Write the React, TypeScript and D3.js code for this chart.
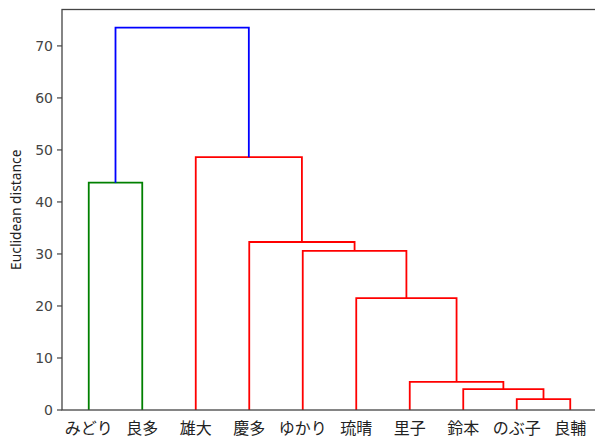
import { useEffect, useRef } from "react";
import * as d3 from "d3";

// leaf labels, in dendrogram order
const leaves = ["みどり", "良多", "雄大", "慶多", "ゆかり", "琉晴", "里子", "鈴本", "のぶ子", "良輔"];

// linkage steps (scipy style: index >= leaves.length refers to an earlier merge)
const mergeA = [8, 7, 6, 5, 4, 3, 0, 2, 16];
const mergeB = [9, 10, 11, 12, 13, 14, 1, 15, 17];
const mergeHeight = [2.1, 4.0, 5.4, 21.5, 30.6, 32.3, 43.7, 48.6, 73.5];
const mergeColor = ["red", "red", "red", "red", "red", "red", "green", "red", "blue"];

const yTicks = [0, 10, 20, 30, 40, 50, 60, 70];

const W = 595;
const H = 440;
const FONT_CJK = "'Noto Sans CJK JP', 'Noto Sans', sans-serif";

export default function App() {
  const svgRef = useRef<SVGSVGElement>(null);

  useEffect(() => {
    if (!svgRef.current) return;
    const svg = d3.select(svgRef.current);
    svg.selectAll("*").remove();

    const margen = { top: 9.5, right: -2, bottom: 30, left: 62 };
    const x = d3.scaleLinear().domain([0, leaves.length * 10]).range([margen.left, W - margen.right]);
    const y = d3.scaleLinear().domain([0, 77]).range([H - margen.bottom, margen.top]);

    // posición y altura de cada nodo
    const nodeX: number[] = leaves.map((_, i) => i * 10 + 5);
    const nodeY: number[] = leaves.map(() => 0);
    mergeA.forEach((a, i) => {
      const b = mergeB[i];
      nodeX.push((nodeX[a] + nodeX[b]) / 2);
      nodeY.push(mergeHeight[i]);
    });

    const g = svg.append("g");
    mergeA.forEach((a, i) => {
      const b = mergeB[i];
      const h = mergeHeight[i];
      const path = d3.path();
      path.moveTo(x(nodeX[a]), y(nodeY[a]));
      path.lineTo(x(nodeX[a]), y(h));
      path.lineTo(x(nodeX[b]), y(h));
      path.lineTo(x(nodeX[b]), y(nodeY[b]));
      g.append("path")
        .attr("d", path.toString())
        .attr("fill", "none")
        .attr("stroke", mergeColor[i])
        .attr("stroke-width", 1.8);
    });

    // marco
    svg.append("rect")
      .attr("x", margen.left)
      .attr("y", margen.top)
      .attr("width", x.range()[1] - margen.left)
      .attr("height", y(0) - margen.top)
      .attr("fill", "none")
      .attr("stroke", "#444")
      .attr("stroke-width", 1.3);

    // eje y
    const ejeY = svg.append("g");
    yTicks.forEach((t) => {
      ejeY.append("line")
        .attr("x1", margen.left - 5)
        .attr("x2", margen.left)
        .attr("y1", y(t))
        .attr("y2", y(t))
        .attr("stroke", "#444")
        .attr("stroke-width", 1.2);
      ejeY.append("text")
        .attr("x", margen.left - 9)
        .attr("y", y(t))
        .attr("dy", "0.36em")
        .attr("text-anchor", "end")
        .attr("fill", "#444")
        .attr("font-size", 14)
        .attr("font-family", "'DejaVu Sans', sans-serif")
        .text(String(t));
    });

    // etiquetas de hojas
    leaves.forEach((name, i) => {
      svg.append("text")
        .attr("x", x(i * 10 + 5))
        .attr("y", y(0) + 18.5)
        .attr("dy", "0.35em")
        .attr("text-anchor", "middle")
        .attr("fill", "#222")
        .attr("font-size", 16)
        .attr("font-family", FONT_CJK)
        .text(name);
    });

    svg.append("text")
      .attr("transform", `translate(16,${(margen.top + y(0)) / 2}) rotate(-90)`)
      .attr("dy", "0.35em")
      .attr("text-anchor", "middle")
      .attr("fill", "#222")
      .attr("font-size", 13.8)
      .attr("font-family", "'Noto Sans', sans-serif")
      .text("Euclidean distance");
  }, []);

  return (
    <svg
      ref={svgRef}
      width={W}
      height={H}
      viewBox={`0 0 ${W} ${H}`}
      style={{ position: "absolute", left: 0, top: 0, background: "#fff" }}
    />
  );
}
